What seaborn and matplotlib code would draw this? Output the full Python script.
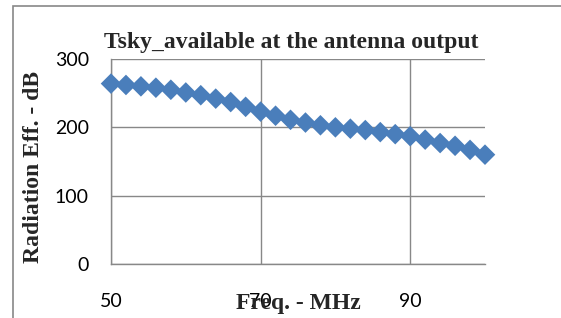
import matplotlib
matplotlib.use("Agg")
import matplotlib.pyplot as plt
from matplotlib.patches import Rectangle
import seaborn as sns
import pandas as pd

# ---------------------------- DATA ----------------------------
freq_mhz = [50, 52, 54, 56, 58, 60, 62, 64, 66, 68, 70, 72, 74,
            76, 78, 80, 82, 84, 86, 88, 90, 92, 94, 96, 98, 100]
tsky_db = [264, 262, 260, 258, 255, 251, 247, 242, 237, 230, 223, 217, 211,
           207, 203, 200, 198, 196, 193, 190, 187, 182, 177, 173, 167, 160]
x_ticks = [50, 70, 90]
y_ticks = [0, 100, 200, 300]

title = "Tsky_available at the antenna output"
x_label = "Freq. - MHz"
y_label = "Radiation Eff. - dB"

df = pd.DataFrame({"freq": freq_mhz, "tsky": tsky_db})

# ---------------------------- STYLE ----------------------------
sns.set_style("white")
plt.rcParams['font.family'] = ['Lato', 'DejaVu Sans']
W, H = 561, 318
grid_col = "#888888"
serif = ['Liberation Serif', 'DejaVu Serif']

fig = plt.figure(figsize=(W / 100, H / 100), dpi=100)
ax = fig.add_axes([111 / W, 1 - 264 / H, (485 - 111) / W, (264 - 59) / H])

# ---------------------------- PLOT ----------------------------
sns.scatterplot(data=df, x="freq", y="tsky", marker="D", s=110,
                color="#4A7EBB", edgecolor="none", ax=ax, zorder=3, clip_on=False)

ax.set_xlim(50, 100)
ax.set_ylim(0, 300)
ax.set_xticks(x_ticks)
ax.set_yticks(y_ticks)
ax.grid(True, color=grid_col, linewidth=1)
ax.tick_params(length=0, labelsize=14, colors="black")
ax.tick_params(axis="y", pad=16)
ax.tick_params(axis="x", pad=21)
ax.set_xlabel("")
ax.set_ylabel("")

for side in ["top", "right"]:
    ax.spines[side].set_visible(False)
for side in ["left", "bottom"]:
    ax.spines[side].set_color(grid_col)
    ax.spines[side].set_linewidth(1)

# Labels as figure text so they sit where the original puts them
fig.text(291 / W, 1 - 48 / H, title, ha="center", va="baseline",
         fontsize=17, fontweight="bold", family=serif)
fig.text(298 / W, 1 - 309 / H, x_label, ha="center", va="baseline",
         fontsize=17, fontweight="bold", family=serif, zorder=5)
fig.text(34 / W, 1 - 167 / H, y_label, ha="center", va="center", rotation=90,
         fontsize=17, fontweight="bold", family=serif)

# Chart frame (right and bottom edges fall outside the picture)
fig.patches.append(Rectangle((13 / W, -0.2), 2, 1.2 - 6 / H, transform=fig.transFigure,
                             fill=False, edgecolor=grid_col, linewidth=1.2))

fig.savefig("out.png", dpi=100)
